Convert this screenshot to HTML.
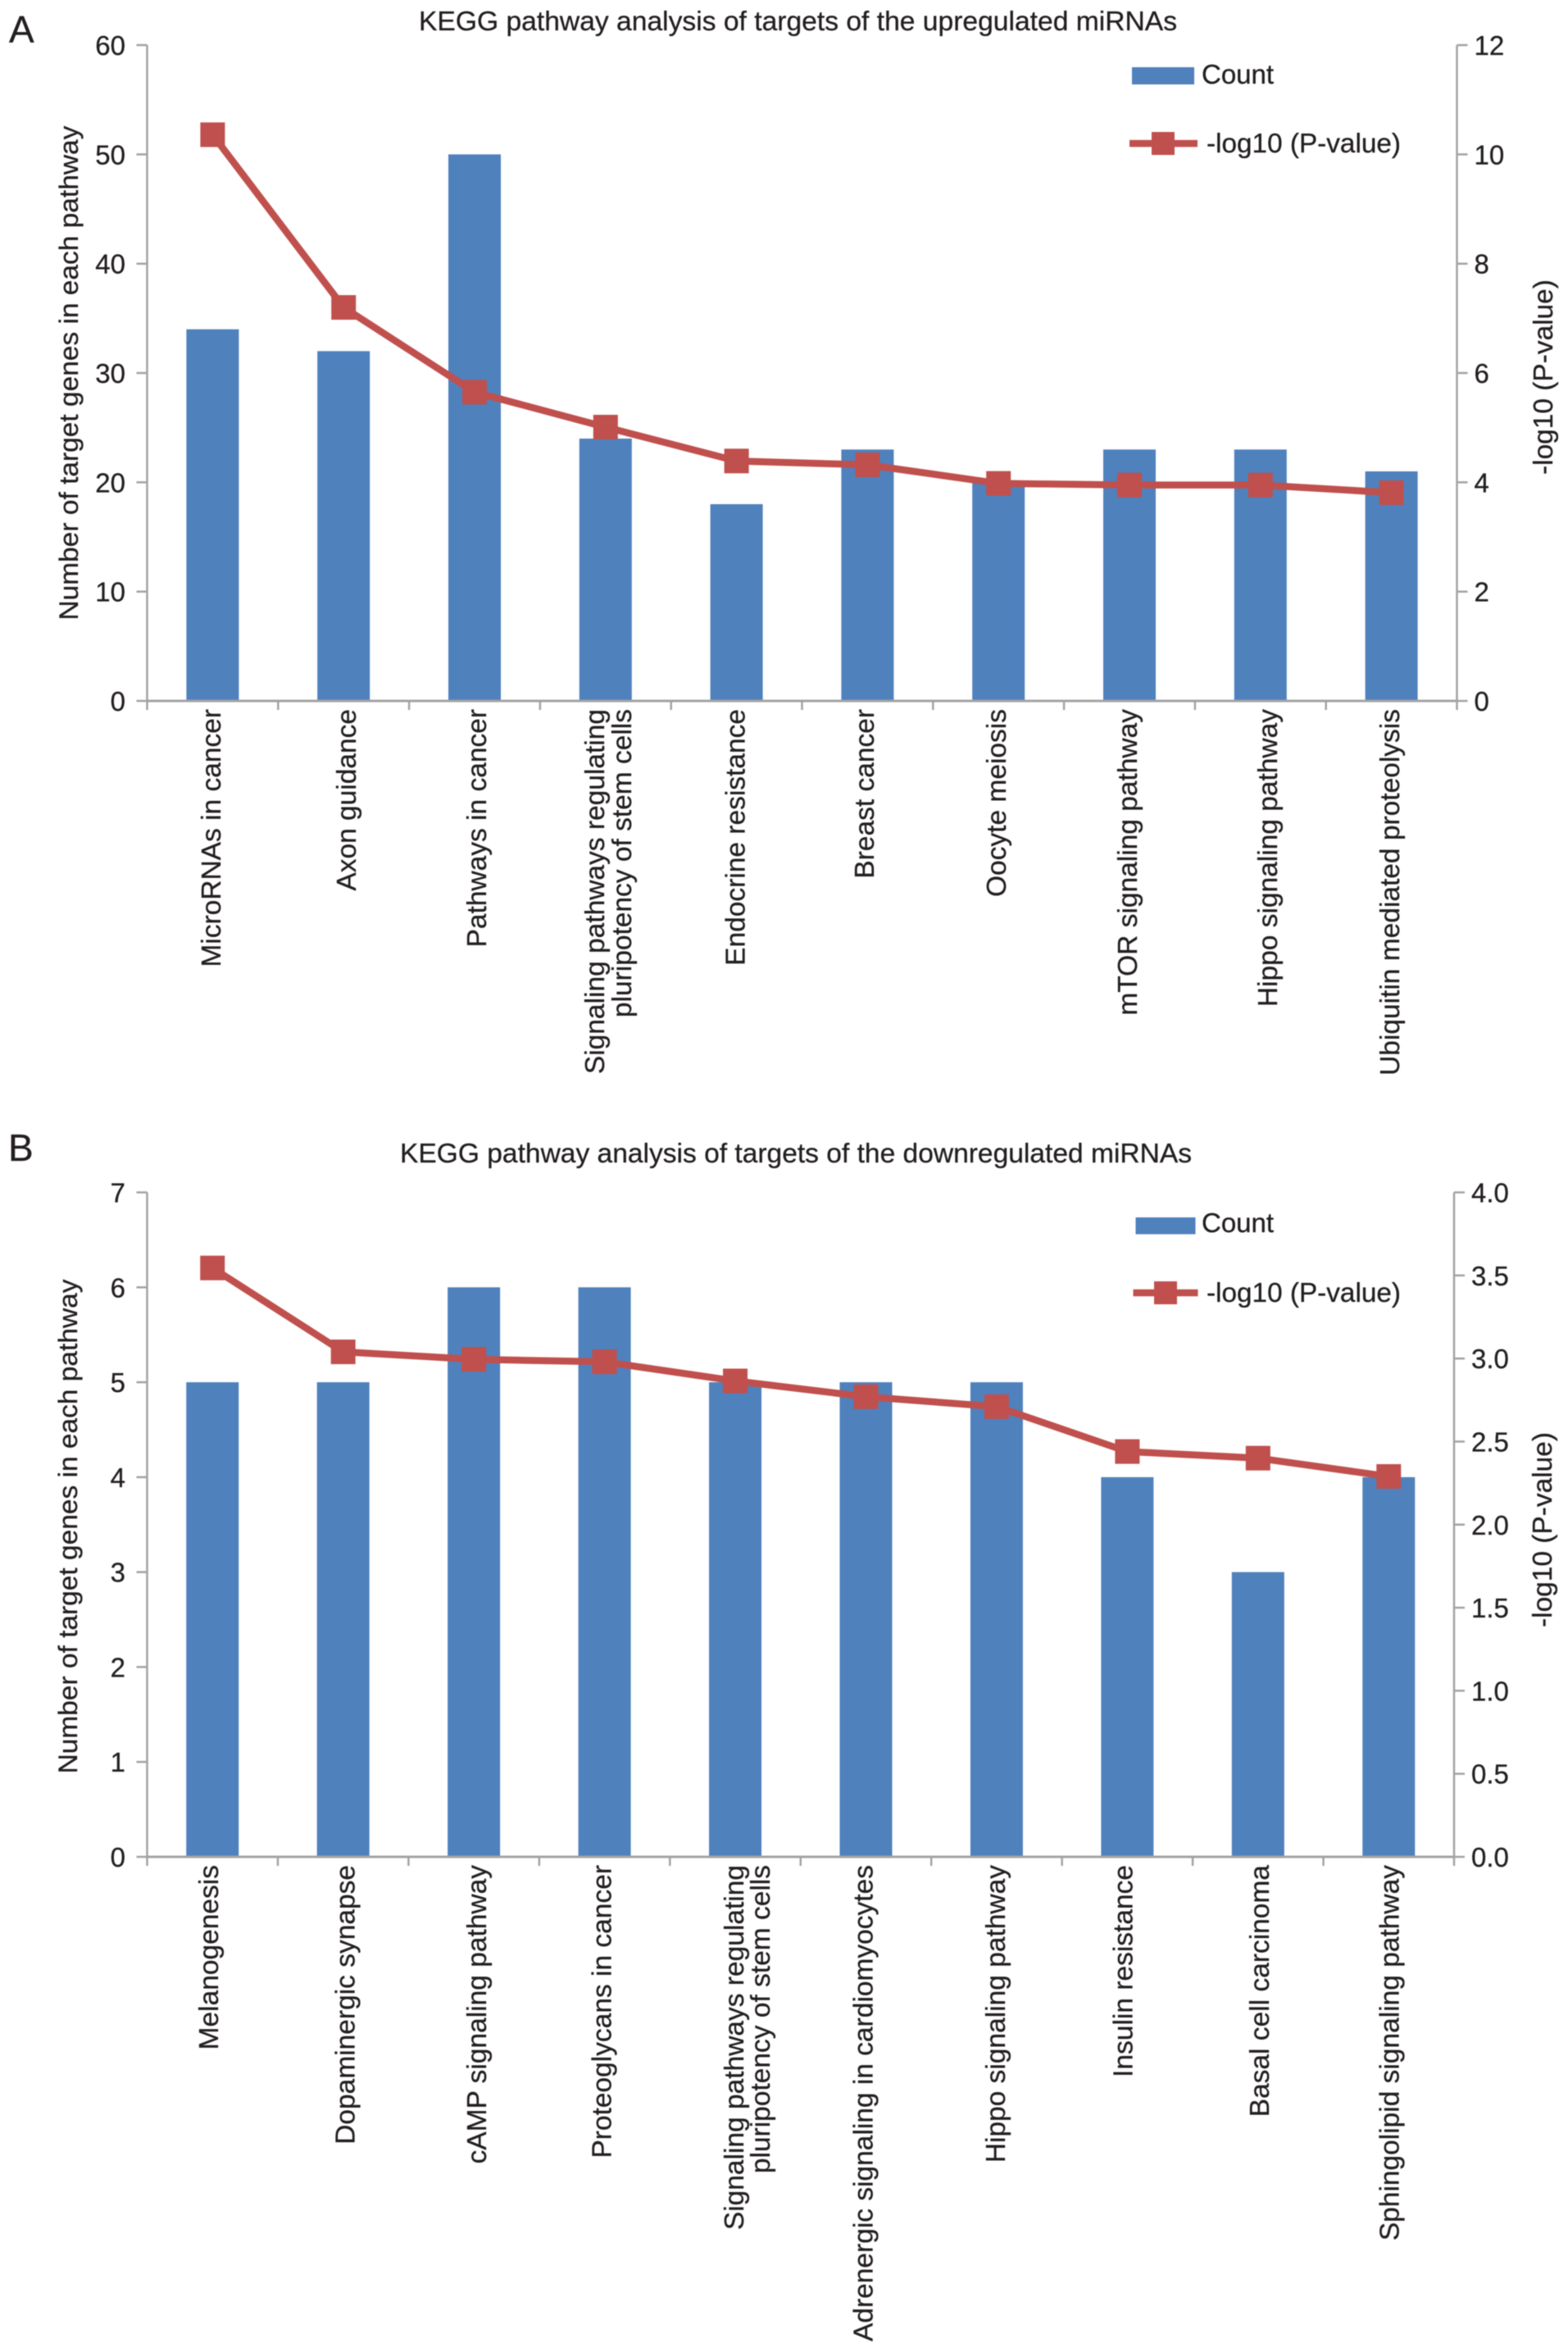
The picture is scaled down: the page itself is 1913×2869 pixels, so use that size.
<!DOCTYPE html>
<html lang="en">
<head>
<meta charset="utf-8">
<title>KEGG pathway analysis of miRNA targets</title>
<style>
  html, body { margin: 0; padding: 0; background: #fff; }
  svg { display: block; font-family: "Liberation Sans", Arial, sans-serif; fill: #231f20; filter: blur(0.5px); }
  text { stroke: #231f20; stroke-width: 0.3px; }
</style>
</head>
<body>
<svg id="figure" xmlns="http://www.w3.org/2000/svg" width="1913" height="2869" viewBox="0 0 1913 2869">
  <rect width="1913" height="2869" fill="#ffffff"></rect>
</svg>
<script>
const categoriesA = ["MicroRNAs in cancer", "Axon guidance", "Pathways in cancer", "Signaling pathways regulating|pluripotency of stem cells", "Endocrine resistance", "Breast cancer", "Oocyte meiosis", "mTOR signaling pathway", "Hippo signaling pathway", "Ubiquitin mediated proteolysis"];
const countsA = [34, 32, 50, 24, 18, 23, 20, 23, 23, 21];
const pValuesA = [10.36, 7.2, 5.65, 5.01, 4.39, 4.32, 3.98, 3.95, 3.95, 3.81];
const leftTicksA = [0, 10, 20, 30, 40, 50, 60];
const rightTicksA = [0, 2, 4, 6, 8, 10, 12];

const categoriesB = ["Melanogenesis", "Dopaminergic synapse", "cAMP signaling pathway", "Proteoglycans in cancer", "Signaling pathways regulating|pluripotency of stem cells", "Adrenergic signaling in cardiomyocytes", "Hippo signaling pathway", "Insulin resistance", "Basal cell carcinoma", "Sphingolipid signaling pathway"];
const countsB = [5, 5, 6, 6, 5, 5, 5, 4, 3, 4];
const pValuesB = [3.545, 3.04, 2.995, 2.98, 2.865, 2.77, 2.71, 2.44, 2.40, 2.29];
const leftTicksB = [0, 1, 2, 3, 4, 5, 6, 7];
const rightTicksB = ["0.0", "0.5", "1.0", "1.5", "2.0", "2.5", "3.0", "3.5", "4.0"];

const SVG_NS = "http://www.w3.org/2000/svg";
const root = document.getElementById("figure");
const AXIS = "#a3a3a3";
const BAR = "#4f81bd";
const LINE = "#c0504d";

function make(parent, tag) {
  const el = document.createElementNS(SVG_NS, tag);
  parent.appendChild(el);
  return el;
}
function rect(parent, x, y, w, h, fill) {
  const el = make(parent, "rect");
  el.setAttribute("x", x);
  el.setAttribute("y", y);
  el.setAttribute("width", w);
  el.setAttribute("height", h);
  el.setAttribute("fill", fill);
  return el;
}
function segment(parent, x1, y1, x2, y2, stroke, width) {
  const el = make(parent, "line");
  el.setAttribute("x1", x1);
  el.setAttribute("y1", y1);
  el.setAttribute("x2", x2);
  el.setAttribute("y2", y2);
  el.setAttribute("stroke", stroke);
  el.setAttribute("stroke-width", width);
  return el;
}
function label(parent, str, x, y, size, anchor, rotate) {
  const el = make(parent, "text");
  el.setAttribute("x", x);
  el.setAttribute("y", y);
  el.setAttribute("font-size", size);
  el.setAttribute("text-anchor", anchor);
  if (rotate) el.setAttribute("transform", "rotate(-90 " + x + " " + y + ")");
  el.textContent = str;
  return el;
}

function drawPanel(categories, counts, pValues, leftTicks, rightTicks, L) {
  const g = make(root, "g");
  
  

  const leftMax = Number(leftTicks[leftTicks.length - 1]);
  const rightMax = Number(rightTicks[rightTicks.length - 1]);
  const band = (L.x1 - L.x0) / categories.length;
  const xCenter = i => L.x0 + band * (i + 0.5);
  const yLeft = v => L.yBottom - (v / leftMax) * (L.yBottom - L.yTop);
  const yRight = v => L.yBottom - (v / rightMax) * (L.yBottom - L.yTop);

  const letter = label(g, L.letter, L.letterX, L.letterY, 46, "start", false);
  
  

  const title = label(g, L.title, L.titleX, L.titleY, 33, "start", false);
  
  
  title.setAttribute("textLength", L.titleLen);
  title.setAttribute("lengthAdjust", "spacingAndGlyphs");

  categories.forEach((cat, i) => {
    const bar = rect(g, xCenter(i) - 32, yLeft(counts[i]), 64, L.yBottom - yLeft(counts[i]), BAR);
    
    
  });

  const axisLeft = segment(g, L.x0, L.yTop, L.x0, L.yBottom, AXIS, 2.5);
  
  
  const axisRight = segment(g, L.x1, L.yTop, L.x1, L.yBottom, AXIS, 2.5);
  
  
  const axisBottom = segment(g, L.x0, L.yBottom, L.x1, L.yBottom, AXIS, 3);
  
  

  leftTicks.forEach(t => {
    const y = yLeft(Number(t));
    const tick = segment(g, L.x0 - 13, y, L.x0, y, AXIS, 2.5);
    
    
    const txt = label(g, String(t), 153, y + 12, 33, "end", false);
    
    
  });

  rightTicks.forEach(t => {
    const y = yRight(Number(t));
    const tick = segment(g, L.x1, y, L.x1 + 13, y, AXIS, 2.5);
    
    
    const txt = label(g, String(t), L.x1 + 21, y + 12, 33, "start", false);
    
    
  });

  for (let i = 0; i <= categories.length; i++) {
    const x = L.x0 + band * i;
    const tick = segment(g, x, L.yBottom, x, L.yBottom + 11, AXIS, 2.5);
    
    
  }

  categories.forEach((cat, i) => {
    const lines = cat.split("|");
    lines.forEach((ln, k) => {
      const bx = xCenter(i) + L.labelOffsets[i] + k * L.lineGap;
      const txt = label(g, ln, bx, L.yBottom + 10, 33.5, "end", true);
      
      
    });
  });

  const yTitleLeft = label(g, "Number of target genes in each pathway", L.leftTitleX, L.leftTitleY, 32, "middle", true);
  
  
  yTitleLeft.setAttribute("textLength", "603");
  yTitleLeft.setAttribute("lengthAdjust", "spacingAndGlyphs");

  const yTitleRight = label(g, "-log10 (P-value)", L.rightTitleX, L.rightTitleY, 33, "middle", true);
  
  
  yTitleRight.setAttribute("textLength", "238");
  yTitleRight.setAttribute("lengthAdjust", "spacingAndGlyphs");

  const line = make(g, "polyline");
  
  
  line.setAttribute("points", pValues.map((v, i) => xCenter(i) + "," + yRight(v)).join(" "));
  line.setAttribute("fill", "none");
  line.setAttribute("stroke", LINE);
  line.setAttribute("stroke-width", 8.5);
  line.setAttribute("stroke-linejoin", "round");

  pValues.forEach((v, i) => {
    const m = rect(g, xCenter(i) - 15, yRight(v) - 15, 30, 30, LINE);
    
    
  });

  const swatch = rect(g, L.swatchX, L.swatchY, L.swatchW, L.swatchH, BAR);
  
  
  const countText = label(g, "Count", 1466, L.countBase, 33, "start", false);
  
  

  const legLine = segment(g, L.legLineX0, L.legLineY, L.legLineX1, L.legLineY, LINE, 8.5);
  
  
  const legMark = rect(g, L.legMarkX - 14, L.legLineY - 14, 28, 28, LINE);
  
  
  const legText = label(g, "-log10 (P-value)", 1472, L.legLineY + 11, 33, "start", false);
  
  
  legText.setAttribute("textLength", "237");
  legText.setAttribute("lengthAdjust", "spacingAndGlyphs");
}

drawPanel(categoriesA, countsA, pValuesA, leftTicksA, rightTicksA, {
  name: "panel-a",
  letter: "A", letterX: 11, letterY: 52,
  title: "KEGG pathway analysis of targets of the upregulated miRNAs",
  titleX: 511, titleY: 37, titleLen: 925,
  x0: 179.5, x1: 1777.5, yTop: 55, yBottom: 855,
  labelOffsets: [9.6, 14.8, 14, -2, 9.9, 7.6, 9, 9, 20, 9.6], lineGap: 33,
  leftTitleX: 95, leftTitleY: 455,
  rightTitleX: 1894, rightTitleY: 460,
  swatchX: 1381, swatchY: 82, swatchW: 76, swatchH: 21, countBase: 102,
  legLineX0: 1378, legLineX1: 1461, legLineY: 175, legMarkX: 1419
});

drawPanel(categoriesB, countsB, pValuesB, leftTicksB, rightTicksB, {
  name: "panel-b",
  letter: "B", letterX: 10, letterY: 1416,
  title: "KEGG pathway analysis of targets of the downregulated miRNAs",
  titleX: 488, titleY: 1418, titleLen: 966,
  x0: 179.5, x1: 1774, yTop: 1454.5, yBottom: 2265,
  labelOffsets: [7, 14, 15, 8, 10, 8, 10, 6, 13, 12], lineGap: 32,
  leftTitleX: 94, leftTitleY: 1862,
  rightTitleX: 1893, rightTitleY: 1866,
  swatchX: 1385.5, swatchY: 1485, swatchW: 73, swatchH: 20.5, countBase: 1503,
  legLineX0: 1382.5, legLineX1: 1461.5, legLineY: 1577, legMarkX: 1422
});
</script>
</body>
</html>
